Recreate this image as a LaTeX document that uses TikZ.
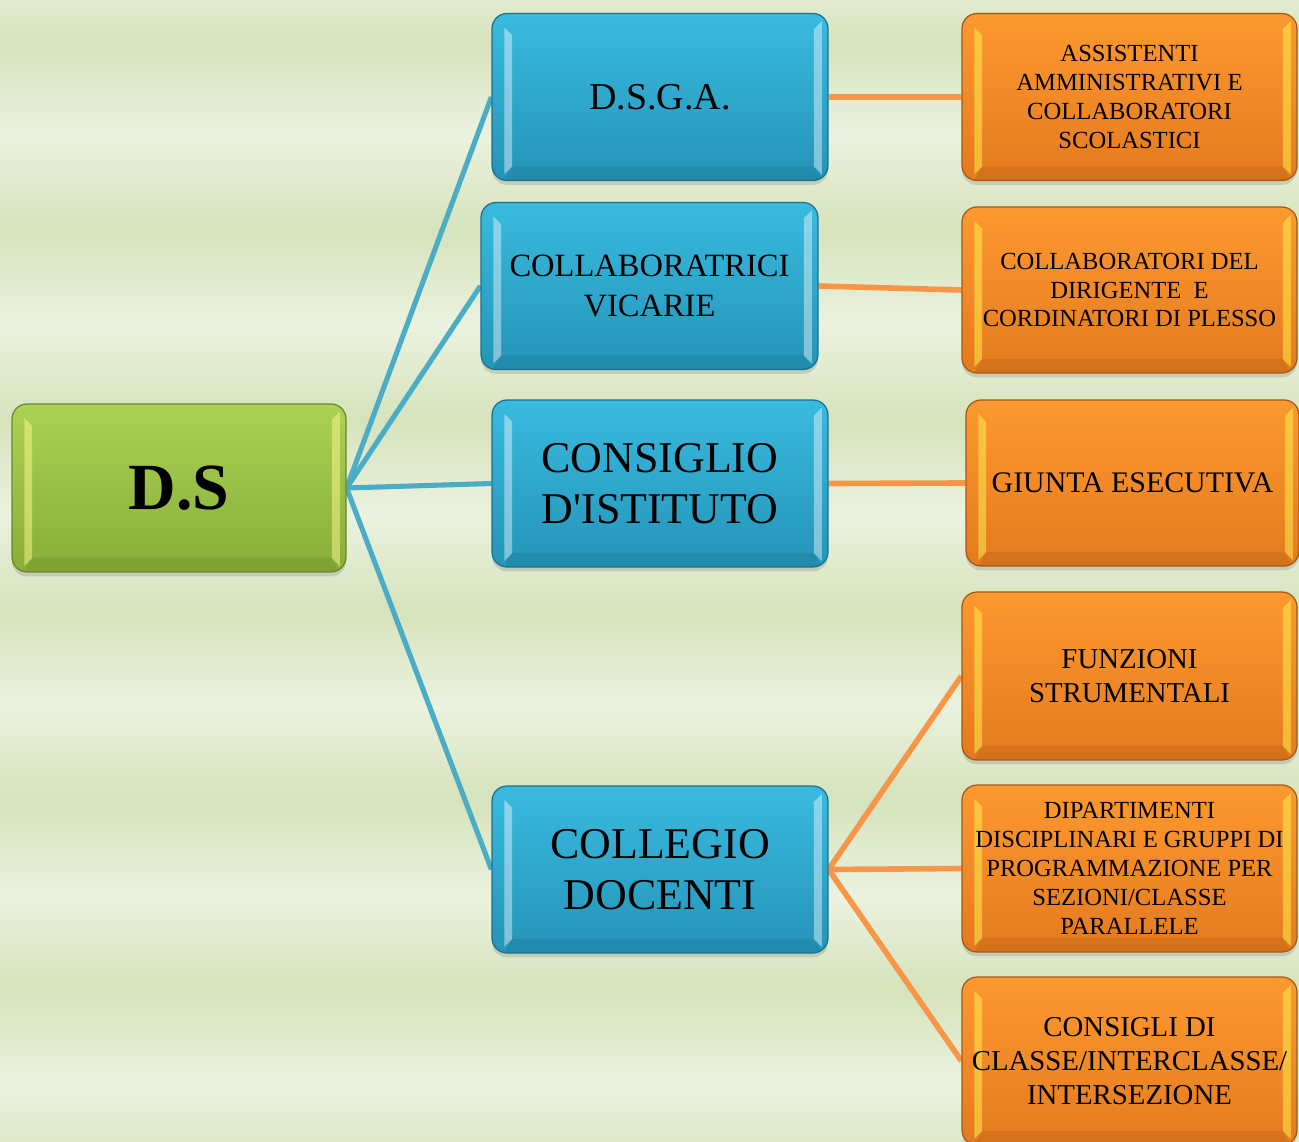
\documentclass[tikz,border=0pt]{standalone}
\usepackage{fontspec}
\setmainfont{Liberation Serif}
\newfontfamily\rawserif{Liberation Serif}
\usetikzlibrary{shadows}
\definecolor{bgD}{RGB}{214,227,188}
\definecolor{bgL}{RGB}{235,242,223}
\definecolor{blT}{RGB}{58,186,223}
\definecolor{blB}{RGB}{36,148,184}
\definecolor{blE}{RGB}{28,112,142}
\definecolor{orT}{RGB}{253,153,48}
\definecolor{orB}{RGB}{228,122,30}
\definecolor{orE}{RGB}{165,88,20}
\definecolor{grT}{RGB}{170,210,84}
\definecolor{grB}{RGB}{136,174,56}
\definecolor{grE}{RGB}{105,135,42}
\definecolor{lnB}{RGB}{75,172,198}
\definecolor{lnO}{RGB}{247,150,70}
\pgfdeclarelayer{bg}
\pgfdeclarelayer{lines}
\pgfsetlayers{bg,lines,main}
\tikzset{
  bevel/.style={path picture={
    \fill[#1, draw=none, sharp corners]
      ([xshift=7pt,yshift=-8pt]path picture bounding box.north west) --
      ([xshift=11.5pt,yshift=-12.5pt]path picture bounding box.north west) --
      ([xshift=11.5pt,yshift=8pt]path picture bounding box.south west) --
      ([xshift=7pt,yshift=3.5pt]path picture bounding box.south west) -- cycle;
    \fill[#1, draw=none, sharp corners]
      ([xshift=-3.5pt,yshift=-4.5pt]path picture bounding box.north east) --
      ([xshift=-8pt,yshift=-9pt]path picture bounding box.north east) --
      ([xshift=-8pt,yshift=8pt]path picture bounding box.south east) --
      ([xshift=-3.5pt,yshift=3.5pt]path picture bounding box.south east) -- cycle;
    \fill[black, opacity=0.07, draw=none, sharp corners]
      ([xshift=11.5pt,yshift=8pt]path picture bounding box.south west) --
      ([xshift=-8pt,yshift=8pt]path picture bounding box.south east) --
      ([xshift=-3.5pt,yshift=0pt]path picture bounding box.south east) --
      ([xshift=7pt,yshift=0pt]path picture bounding box.south west) -- cycle;
  }},
  boxbase/.style={rectangle, rounded corners=8.5pt, line width=0.7pt,
    align=center, inner sep=2pt, text=black,
    minimum width=6.72cm, minimum height=3.34cm,
    drop shadow={shadow xshift=0pt, shadow yshift=-2.5pt, opacity=0.28}},
  bluebox/.style={boxbase, draw=blE, top color=blT, bottom color=blB,
    bevel={fill=white, opacity=0.42}},
  orangebox/.style={boxbase, draw=orE, top color=orT, bottom color=orB,
    minimum width=6.70cm,
    bevel={fill=yellow!70!white, opacity=0.5}},
  greenbox/.style={boxbase, draw=grE, top color=grT, bottom color=grB,
    minimum width=6.68cm, minimum height=3.36cm,
    bevel={fill=yellow!45!white, opacity=0.5}},
  blueline/.style={draw=lnB, line width=2.9pt},
  orangeline/.style={draw=lnO, line width=3.2pt},
  smalltxt/.style={font=\fontsize{14}{16.4}\selectfont},
  midtxt/.style={font=\fontsize{16.4}{19.3}\selectfont},
  bigtxt/.style={font=\fontsize{25}{29}\selectfont}
}
\begin{document}
\begin{tikzpicture}[x=0.02cm,y=-0.02cm]
\useasboundingbox (0,0) rectangle (1299,1142);
\begin{pgfonlayer}{bg}
\begin{scope}
\clip (0,0) rectangle (1299,1142);
\fill[bgL] (0,0) rectangle (1299,1142);
\shade[top color=bgL!60!bgD, bottom color=bgD] (0,0) rectangle (1299,40);
\foreach \k in {0,...,6}{
  \shade[top color=bgD, bottom color=bgL] (0,{40+190*\k}) rectangle (1299,{135+190*\k});
  \shade[top color=bgL, bottom color=bgD] (0,{135+190*\k}) rectangle (1299,{230+190*\k});
}
\end{scope}
\end{pgfonlayer}

% root
\node[greenbox, font=\bfseries\fontsize{37.5}{40}\selectfont] (ds) at (179,488) {D.S};

% second level
\node[bluebox, font=\fontsize{21.6}{25}\selectfont] (dsga) at (660,97) {D.S.G.A.};
\node[bluebox, minimum width=6.74cm, font=\fontsize{18.5}{22.7}\selectfont] (coll) at (649.5,286) {COLLABORATRICI\\VICARIE};
\node[bluebox, bigtxt] (cons) at (660,483.5) {CONSIGLIO\\D{\rawserif '}ISTITUTO};
\node[bluebox, bigtxt] (coldoc) at (660,869.5) {COLLEGIO\\DOCENTI};

% third level
\node[orangebox, smalltxt] (ass) at (1129.5,97) {ASSISTENTI\\AMMINISTRATIVI E\\COLLABORATORI\\SCOLASTICI};
\node[orangebox, smalltxt, minimum height=3.32cm] (cdir) at (1129.5,290) {COLLABORATORI DEL\\DIRIGENTE\ \ E\\CORDINATORI DI PLESSO};
\node[orangebox, font=\fontsize{17}{19.3}\selectfont, minimum width=6.66cm, minimum height=3.32cm] (giunta) at (1132.5,483) {GIUNTA ESECUTIVA};
\node[orangebox, midtxt, minimum height=3.36cm] (funz) at (1129.5,676) {FUNZIONI\\STRUMENTALI};
\node[orangebox, smalltxt] (dip) at (1129.5,868.5) {DIPARTIMENTI\\DISCIPLINARI E GRUPPI DI\\PROGRAMMAZIONE PER\\SEZIONI/CLASSE\\PARALLELE};
\node[orangebox, midtxt, minimum height=3.36cm] (csg) at (1129.5,1061) {CONSIGLI DI\\CLASSE/INTERCLASSE/\\INTERSEZIONE};

\begin{pgfonlayer}{lines}
\draw[blueline] (ds.east) -- (dsga.west);
\draw[blueline] (ds.east) -- (coll.west);
\draw[blueline] (ds.east) -- (cons.west);
\draw[blueline] (ds.east) -- (coldoc.west);
\draw[orangeline] (dsga.east) -- (ass.west);
\draw[orangeline] (coll.east) -- (cdir.west);
\draw[orangeline] (cons.east) -- (giunta.west);
\draw[orangeline] (coldoc.east) -- (funz.west);
\draw[orangeline] (coldoc.east) -- (dip.west);
\draw[orangeline] (coldoc.east) -- (csg.west);
\end{pgfonlayer}
\end{tikzpicture}
\end{document}
